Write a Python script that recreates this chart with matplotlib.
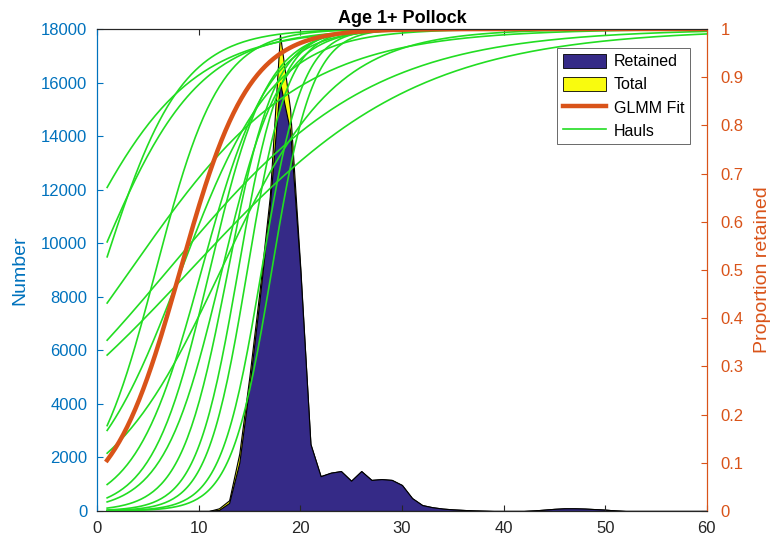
import numpy as np
import matplotlib.pyplot as plt
from matplotlib.patches import Patch
from matplotlib.lines import Line2D

plt.rcParams['font.family'] = ['Liberation Sans', 'DejaVu Sans']

# length bins and catch numbers
lengths = np.arange(1, 61)
retained = np.zeros(60)
total = np.zeros(60)
retained_vals = {12: 40, 13: 300, 14: 1800, 15: 4700, 16: 7900, 17: 11400, 18: 16000,
                 19: 14200, 20: 9000, 21: 2500, 22: 1300, 23: 1430, 24: 1490, 25: 1130,
                 26: 1490, 27: 1160, 28: 1190, 29: 1160, 30: 970, 31: 480, 32: 220,
                 33: 140, 34: 90, 35: 60, 36: 40, 37: 20, 38: 10,
                 43: 20, 44: 50, 45: 80, 46: 100, 47: 100, 48: 90, 49: 70, 50: 50, 51: 20}
total_extra = {12: 60, 13: 100, 14: 350, 15: 350, 16: 350, 17: 350, 18: 1800, 19: 800, 20: 100}
for k, v in retained_vals.items():
    retained[k - 1] = v
total[:] = retained
for k, v in total_extra.items():
    total[k - 1] += v

# logistic selectivity per haul (L50, slope)
haul_l50 = [-3.2, -0.17, 0.58, 3.3, 7.0, 9.2, 5.8, 8.3, 12.2,
            10.3, 11.1, 12.3, 12.9, 13.9, 14.8, 16.2, 17.2]
haul_slope = [0.17, 0.20, 0.26, 0.12, 0.10, 0.09, 0.32, 0.22, 0.178,
              0.306, 0.354, 0.35, 0.43, 0.48, 0.50, 0.50, 0.50]
glmm_l50 = 8.2
glmm_slope = 0.297

c_left = '#0072BD'
c_right = '#D95319'
c_haul = '#22DD22'

fig = plt.figure(figsize=(7.71, 5.44), dpi=100)
ax = fig.add_axes([0.1258, 0.0607, 0.791, 0.886])
ax2 = ax.twinx()

ax.fill_between(lengths, total, color='#F9FB0E', edgecolor='black', linewidth=0.8)
ax.fill_between(lengths, retained, color='#352A87', edgecolor='black', linewidth=0.8)

xs = np.linspace(1, 60, 300)
for l50, b in zip(haul_l50, haul_slope):
    ax2.plot(xs, 1 / (1 + np.exp(-b * (xs - l50))), color=c_haul, linewidth=1.2)
ax2.plot(xs, 1 / (1 + np.exp(-glmm_slope * (xs - glmm_l50))), color=c_right, linewidth=3.2)

ax.set_xlim(0, 60)
ax.set_ylim(0, 18000)
ax2.set_ylim(0, 1)
ax.set_xticks(np.arange(0, 61, 10))
ax.set_yticks(np.arange(0, 18001, 2000))
ax2.set_yticks(np.arange(0, 1.01, 0.1))
ax2.set_yticklabels(['0', '0.1', '0.2', '0.3', '0.4', '0.5', '0.6', '0.7', '0.8', '0.9', '1'])

ax.tick_params(axis='both', direction='in', labelsize=12, length=4)
ax.tick_params(axis='y', colors=c_left, pad=7)
ax.tick_params(axis='x', colors='#262626', top=True, pad=7)
ax2.tick_params(axis='y', direction='in', colors=c_right, labelsize=12, length=4, pad=10)
for a in (ax, ax2):
    a.spines['left'].set_color(c_left)
    a.spines['right'].set_color(c_right)
    a.spines['top'].set_color('#262626')
    a.spines['bottom'].set_color('#262626')
ax.set_ylabel('Number', color=c_left, fontsize=14)
ax.yaxis.set_label_coords(-0.113, 0.5)
ax2.set_ylabel('Proportion retained', color=c_right, fontsize=14)
ax2.yaxis.set_label_coords(1.078, 0.5)
ax.set_title('Age 1+ Pollock', fontsize=13, fontweight='bold', pad=4)

handles = [Patch(facecolor='#352A87', edgecolor='black', linewidth=0.6, label='Retained'),
           Patch(facecolor='#F9FB0E', edgecolor='black', linewidth=0.6, label='Total'),
           Line2D([], [], color=c_right, linewidth=3.2, label='GLMM Fit'),
           Line2D([], [], color=c_haul, linewidth=1.2, label='Hauls')]
leg = ax2.legend(handles=handles, loc='upper right', bbox_to_anchor=(0.972, 0.9606),
                 fontsize=11.5, frameon=True, fancybox=False, edgecolor='#262626',
                 borderpad=0.35, labelspacing=0.45, handlelength=2.7, handleheight=1.05,
                 handletextpad=0.5, borderaxespad=0)
leg.get_frame().set_linewidth(0.6)

fig.savefig('out.png', dpi=100)
